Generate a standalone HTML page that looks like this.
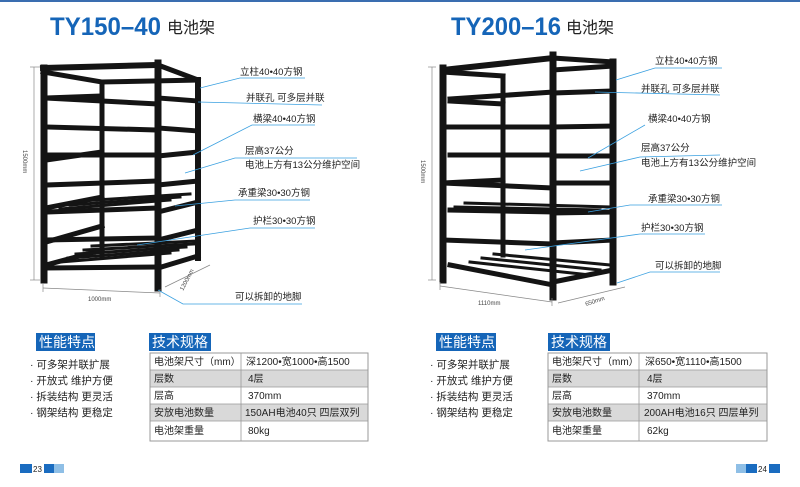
<!DOCTYPE html>
<html><head><meta charset="utf-8"><style>
body{margin:0;width:800px;height:487px;background:#fff;overflow:hidden;font-family:"Liberation Sans","Noto Sans CJK SC",sans-serif;}
svg{position:absolute;left:0;top:0}
text{font-family:"Liberation Sans","Noto Sans CJK SC",sans-serif;}
</style></head><body>
<svg width="800" height="487" viewBox="0 0 800 487">
<rect x="0" y="0" width="800" height="2" fill="#3a6db0"/>
<!-- titles -->
<text x="50" y="35" font-size="25" font-weight="bold" fill="#1565b8" textLength="111" lengthAdjust="spacingAndGlyphs">TY150–40</text>
<text x="167" y="33" font-size="16" fill="#222">电池架</text>
<text x="451" y="35" font-size="25" font-weight="bold" fill="#1565b8" textLength="110" lengthAdjust="spacingAndGlyphs">TY200–16</text>
<text x="566" y="33" font-size="16" fill="#222">电池架</text>

<!-- LEFT RACK -->
<g stroke="#141414" fill="none" stroke-linecap="square">
<line x1="102" y1="82" x2="102" y2="255" stroke-width="5"/>
<line x1="198" y1="80" x2="198" y2="258" stroke-width="6"/>
<line x1="102" y1="82" x2="198" y2="80" stroke-width="5"/>
<line x1="43" y1="72" x2="102" y2="82" stroke-width="5"/>
<line x1="158" y1="65" x2="198" y2="80" stroke-width="5"/>
<line x1="43" y1="68" x2="158" y2="65" stroke-width="6"/>
<g stroke-width="5">
<line x1="46" y1="98" x2="158" y2="104"/><line x1="158" y1="98" x2="198" y2="101"/><line x1="46" y1="98" x2="102" y2="96"/>
<line x1="46" y1="127" x2="158" y2="130"/><line x1="158" y1="128" x2="198" y2="131"/>
<line x1="46" y1="155" x2="158" y2="155"/><line x1="158" y1="156" x2="198" y2="152"/><line x1="46" y1="160" x2="102" y2="152"/>
<line x1="46" y1="185" x2="158" y2="181"/><line x1="158" y1="185" x2="198" y2="181"/>
<line x1="46" y1="212" x2="158" y2="208"/><line x1="158" y1="212" x2="198" y2="202"/><line x1="46" y1="208" x2="102" y2="197"/>
<line x1="46" y1="240" x2="158" y2="238"/><line x1="158" y1="240" x2="198" y2="230"/><line x1="46" y1="242" x2="102" y2="226"/>
<line x1="46" y1="268" x2="158" y2="267"/><line x1="158" y1="268" x2="198" y2="256"/><line x1="46" y1="265" x2="102" y2="250"/>
</g>
<g stroke-width="3">
<line x1="60" y1="209" x2="170" y2="200"/><line x1="70" y1="205" x2="180" y2="197"/><line x1="80" y1="201" x2="190" y2="194"/>
<line x1="60" y1="262" x2="170" y2="253"/><line x1="68" y1="258" x2="178" y2="250"/><line x1="76" y1="254" x2="186" y2="247"/><line x1="84" y1="250" x2="194" y2="244"/><line x1="92" y1="246" x2="198" y2="241"/>
</g>
<line x1="44" y1="68" x2="44" y2="280" stroke-width="7"/>
<line x1="158" y1="63" x2="158" y2="288" stroke-width="7"/>
</g>
<!-- left dims -->
<g stroke="#888" stroke-width="0.7">
<line x1="34" y1="67" x2="34" y2="280"/><line x1="30" y1="67" x2="40" y2="67"/><line x1="30" y1="280" x2="40" y2="280"/>
<line x1="43" y1="288" x2="160" y2="293"/><line x1="43" y1="284" x2="43" y2="292"/><line x1="160" y1="289" x2="160" y2="297"/>
<line x1="165" y1="287" x2="210" y2="265"/>
</g>
<text transform="translate(23,150) rotate(90)" font-size="6" fill="#444">1500mm</text>
<text x="88" y="301" font-size="6" fill="#444">1000mm</text>
<text transform="translate(183,291) rotate(-62)" font-size="6" fill="#444">1200mm</text>
<!-- left callouts -->
<g stroke="#3aa0e0" stroke-width="0.8" fill="none">
<polyline points="200,88 240,78 305,78"/>
<polyline points="198,102 322,105"/>
<polyline points="193,155 252,125 315,125"/>
<polyline points="185,173 235,158 357,158"/>
<polyline points="175,206 235,200 310,200"/>
<polyline points="137,245 250,228 315,228"/>
<polyline points="158,290 183,304 302,304"/>
</g>
<g font-size="9.5" fill="#222">
<text x="240" y="75">立柱40•40方钢</text>
<text x="246" y="101">并联孔  可多层并联</text>
<text x="253" y="122">横梁40•40方钢</text>
<text x="245" y="154">层高37公分</text>
<text x="245" y="168">电池上方有13公分维护空间</text>
<text x="238" y="196">承重梁30•30方钢</text>
<text x="253" y="224">护栏30•30方钢</text>
<text x="235" y="300">可以拆卸的地脚</text>
</g>

<!-- RIGHT RACK -->
<g stroke="#141414" fill="none" stroke-linecap="square">
<line x1="503" y1="76" x2="503" y2="255" stroke-width="5"/>
<line x1="613" y1="62" x2="613" y2="282" stroke-width="7"/>
<line x1="443" y1="70" x2="553" y2="58" stroke-width="6"/>
<line x1="443" y1="72" x2="503" y2="76" stroke-width="5"/>
<line x1="553" y1="58" x2="613" y2="62" stroke-width="5"/>
<line x1="553" y1="70" x2="613" y2="66" stroke-width="5"/>
<g stroke-width="5">
<line x1="450" y1="99" x2="553" y2="92"/><line x1="553" y1="93" x2="613" y2="91"/><line x1="450" y1="101" x2="503" y2="104"/>
<line x1="443" y1="127" x2="553" y2="127"/><line x1="553" y1="127" x2="613" y2="126"/>
<line x1="450" y1="155" x2="553" y2="155"/><line x1="553" y1="156" x2="613" y2="156"/>
<line x1="443" y1="183" x2="553" y2="188"/><line x1="553" y1="183" x2="613" y2="183"/><line x1="443" y1="183" x2="503" y2="180"/>
<line x1="450" y1="210" x2="553" y2="212"/><line x1="553" y1="213" x2="613" y2="212"/>
<line x1="443" y1="240" x2="553" y2="244"/><line x1="553" y1="243" x2="613" y2="240"/>
<line x1="450" y1="265" x2="553" y2="285"/><line x1="553" y1="282" x2="613" y2="270"/>
</g>
<g stroke-width="3">
<line x1="470" y1="262" x2="590" y2="275"/><line x1="482" y1="258" x2="600" y2="270"/><line x1="494" y1="254" x2="610" y2="265"/>
<line x1="455" y1="207" x2="600" y2="210"/><line x1="465" y1="203" x2="610" y2="207"/>
</g>
<line x1="443" y1="68" x2="443" y2="280" stroke-width="7"/>
<line x1="553" y1="55" x2="553" y2="297" stroke-width="7"/>
</g>
<g stroke="#888" stroke-width="0.7">
<line x1="432" y1="67" x2="432" y2="280"/><line x1="428" y1="67" x2="436" y2="67"/><line x1="428" y1="280" x2="436" y2="280"/>
<line x1="440" y1="286" x2="552" y2="302"/><line x1="440" y1="282" x2="440" y2="290"/><line x1="552" y1="298" x2="552" y2="306"/>
<line x1="558" y1="303" x2="625" y2="287"/>
</g>
<text transform="translate(421,160) rotate(90)" font-size="6" fill="#444">1500mm</text>
<text x="478" y="305" font-size="6" fill="#444">1110mm</text>
<text transform="translate(586,306) rotate(-18)" font-size="6" fill="#444">650mm</text>
<g stroke="#3aa0e0" stroke-width="0.8" fill="none">
<polyline points="616,80 655,68 722,68"/>
<polyline points="595,92 720,95"/>
<polyline points="588,158 645,125 645,125"/>
<polyline points="580,171 640,157 720,155"/>
<polyline points="588,212 630,205 722,205"/>
<polyline points="525,250 640,234 705,234"/>
<polyline points="617,283 650,272 720,272"/>
</g>
<g font-size="9.5" fill="#222">
<text x="655" y="64">立柱40•40方钢</text>
<text x="641" y="92">并联孔  可多层并联</text>
<text x="648" y="122">横梁40•40方钢</text>
<text x="641" y="151">层高37公分</text>
<text x="641" y="166">电池上方有13公分维护空间</text>
<text x="648" y="202">承重梁30•30方钢</text>
<text x="641" y="231">护栏30•30方钢</text>
<text x="655" y="269">可以拆卸的地脚</text>
</g>

<!-- bottom sections -->
<g>
<rect x="36" y="333" width="59" height="18" fill="#1565b8"/>
<text x="39" y="347" font-size="14" fill="#fff">性能特点</text>
<rect x="149" y="333" width="62" height="18" fill="#1565b8"/>
<text x="152" y="347" font-size="14" fill="#fff">技术规格</text>
<rect x="436" y="333" width="60" height="18" fill="#1565b8"/>
<text x="439" y="347" font-size="14" fill="#fff">性能特点</text>
<rect x="548" y="333" width="62" height="18" fill="#1565b8"/>
<text x="551" y="347" font-size="14" fill="#fff">技术规格</text>
</g>
<g font-size="10.5" fill="#222">
<text x="30" y="368">· 可多架并联扩展</text>
<text x="30" y="384">· 开放式  维护方便</text>
<text x="30" y="400">· 拆装结构  更灵活</text>
<text x="30" y="416">· 钢架结构  更稳定</text>
<text x="430" y="368">· 可多架并联扩展</text>
<text x="430" y="384">· 开放式  维护方便</text>
<text x="430" y="400">· 拆装结构  更灵活</text>
<text x="430" y="416">· 钢架结构  更稳定</text>
</g>
<!-- tables -->
<g>
<rect x="150" y="370" width="218" height="17" fill="#d9d9d9"/>
<rect x="150" y="404" width="218" height="17" fill="#d9d9d9"/>
<rect x="150" y="353" width="218" height="88" fill="none" stroke="#999" stroke-width="1"/>
<g stroke="#999" stroke-width="0.8"><line x1="150" y1="370" x2="368" y2="370"/><line x1="150" y1="387" x2="368" y2="387"/><line x1="150" y1="404" x2="368" y2="404"/><line x1="150" y1="421" x2="368" y2="421"/><line x1="241" y1="353" x2="241" y2="441"/></g>
<g font-size="10" fill="#222">
<text x="154" y="365">电池架尺寸（mm）</text><text x="246" y="365">深1200•宽1000•高1500</text>
<text x="154" y="382">层数</text><text x="248" y="382">4层</text>
<text x="154" y="399">层高</text><text x="248" y="399">370mm</text>
<text x="154" y="416">安放电池数量</text><text x="245" y="416">150AH电池40只  四层双列</text>
<text x="154" y="434">电池架重量</text><text x="248" y="434">80kg</text>
</g>
<rect x="548" y="370" width="219" height="17" fill="#d9d9d9"/>
<rect x="548" y="404" width="219" height="17" fill="#d9d9d9"/>
<rect x="548" y="353" width="219" height="88" fill="none" stroke="#999" stroke-width="1"/>
<g stroke="#999" stroke-width="0.8"><line x1="548" y1="370" x2="767" y2="370"/><line x1="548" y1="387" x2="767" y2="387"/><line x1="548" y1="404" x2="767" y2="404"/><line x1="548" y1="421" x2="767" y2="421"/><line x1="639" y1="353" x2="639" y2="441"/></g>
<g font-size="10" fill="#222">
<text x="552" y="365">电池架尺寸（mm）</text><text x="645" y="365">深650•宽1110•高1500</text>
<text x="552" y="382">层数</text><text x="647" y="382">4层</text>
<text x="552" y="399">层高</text><text x="647" y="399">370mm</text>
<text x="552" y="416">安放电池数量</text><text x="644" y="416">200AH电池16只  四层单列</text>
<text x="552" y="434">电池架重量</text><text x="647" y="434">62kg</text>
</g>
</g>
<!-- page numbers -->
<rect x="20" y="464" width="12" height="9" fill="#1a6cc0"/>
<text x="33" y="472" font-size="8" fill="#222">23</text>
<rect x="44" y="464" width="10" height="9" fill="#1a6cc0"/>
<rect x="54" y="464" width="10" height="9" fill="#8fbfe6"/>
<rect x="736" y="464" width="10" height="9" fill="#8fbfe6"/>
<rect x="746" y="464" width="11" height="9" fill="#1a6cc0"/>
<text x="758" y="472" font-size="8" fill="#222">24</text>
<rect x="769" y="464" width="11" height="9" fill="#1a6cc0"/>
</svg>
</body></html>
